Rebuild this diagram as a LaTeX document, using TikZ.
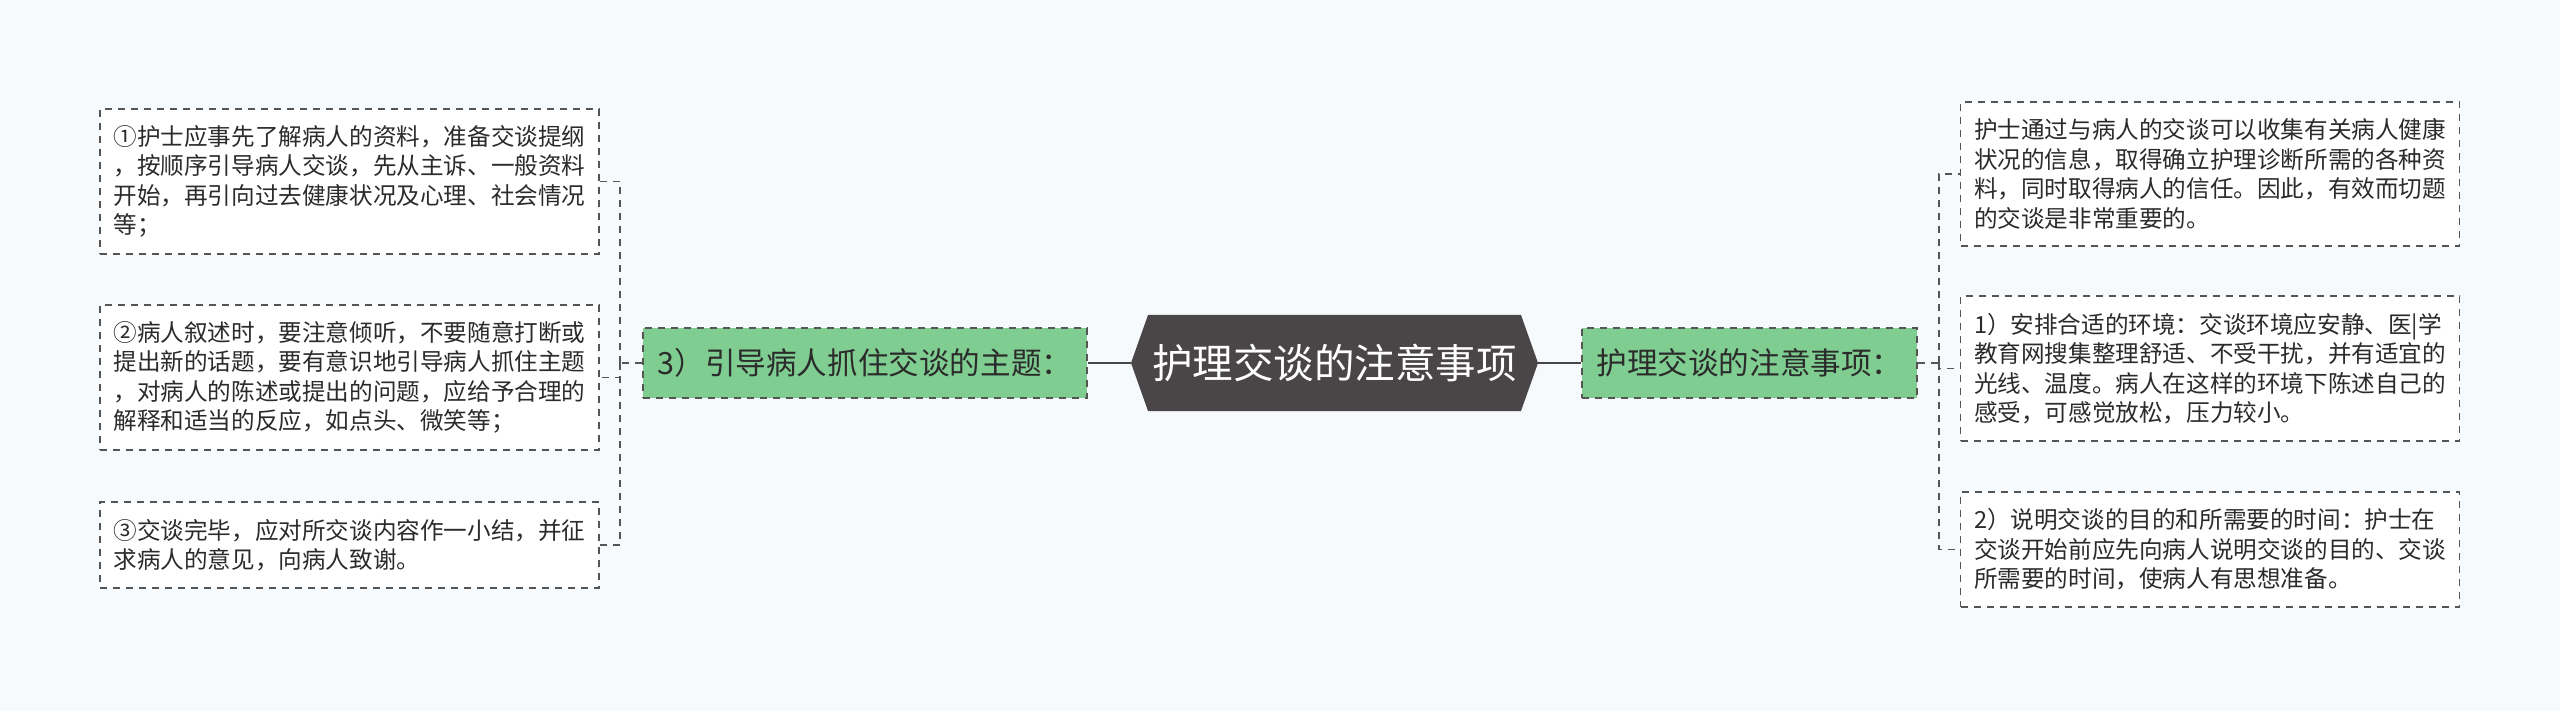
\documentclass[tikz,border=0pt]{standalone}
\usepackage{fontspec}
\newfontfamily\cjk{Noto Sans CJK SC}
\usetikzlibrary{calc}
\definecolor{bgc}{HTML}{F6FAFC}
\definecolor{branchgreen}{HTML}{7FCD91}
\definecolor{darkc}{HTML}{4A4546}
\definecolor{linec}{HTML}{555555}
\definecolor{textc}{HTML}{2B2B2B}
\tikzset{
  leaf/.style={draw=linec, dash pattern=on 3.5pt off 3pt, line width=0.9pt, fill=white,
    minimum width=249.5pt, align=left, inner sep=0pt, text=textc,
    font=\cjk\fontsize{11.8pt}{14.75pt}\selectfont},
  branch/.style={draw=linec, dash pattern=on 3.5pt off 3pt, line width=0.9pt, fill=branchgreen,
    minimum height=35pt, inner sep=0pt, text=textc,
    font=\cjk\fontsize{15.3pt}{18pt}\selectfont},
  centre/.style={minimum width=203.5pt, minimum height=48pt, inner sep=0pt, text=white,
    font=\cjk\fontsize{20.25pt}{24pt}\selectfont},
  conn/.style={draw=linec, line width=0.9pt, dash pattern=on 3.5pt off 3pt},
  solidconn/.style={draw=darkc, line width=1.2pt},
}
\begin{document}
\begin{tikzpicture}[x=1pt,y=1pt]
\fill[bgc] (0,0) rectangle (1280,-355.5);
\useasboundingbox (0,0) rectangle (1280,-355.5);

% left leaves
\node[leaf, minimum height=72.5pt] (l1) at (174.75,-90.75)
  {①护士应事先了解病人的资料，准备交谈提纲\\，按顺序引导病人交谈，先从主诉、一般资料\\开始，再引向过去健康状况及心理、社会情况\\等；};
\node[leaf, minimum height=72.5pt] (l2) at (174.75,-188.75)
  {②病人叙述时，要注意倾听，不要随意打断或\\提出新的话题，要有意识地引导病人抓住主题\\，对病人的陈述或提出的问题，应给予合理的\\解释和适当的反应，如点头、微笑等；};
\node[leaf, minimum height=43pt] (l3) at (174.75,-272.5)
  {③交谈完毕，应对所交谈内容作一小结，并征\\求病人的意见，向病人致谢。};

% left branch
\node[branch, minimum width=222pt] (lb) at (432.5,-181.5) {3）引导病人抓住交谈的主题：};

% centre
\coordinate (cc) at (667.25,-181.5);
\fill[darkc] ($(cc)+(-101.75,0)$) -- ($(cc)+(-93.25,24)$) -- ($(cc)+(93.25,24)$)
  -- ($(cc)+(101.75,0)$) -- ($(cc)+(93.25,-24)$) -- ($(cc)+(-93.25,-24)$) -- cycle;
\node[centre] (c) at (cc) {护理交谈的注意事项};

% right branch
\node[branch, minimum width=167.5pt] (rb) at (874.75,-181.5) {护理交谈的注意事项：};

% right leaves
\node[leaf, minimum height=72pt] (r1) at (1105,-87)
  {护士通过与病人的交谈可以收集有关病人健康\\状况的信息，取得确立护理诊断所需的各种资\\料，同时取得病人的信任。因此，有效而切题\\的交谈是非常重要的。};
\node[leaf, minimum height=72.5pt] (r2) at (1105,-184.25)
  {1）安排合适的环境：交谈环境应安静、医|学\\教育网搜集整理舒适、不受干扰，并有适宜的\\光线、温度。病人在这样的环境下陈述自己的\\感受，可感觉放松，压力较小。};
\node[leaf, minimum height=57.5pt] (r3) at (1105,-274.75)
  {2）说明交谈的目的和所需要的时间：护士在\\交谈开始前应先向病人说明交谈的目的、交谈\\所需要的时间，使病人有思想准备。};

% connectors
\draw[solidconn] (lb.east) -- (c.west);
\draw[solidconn] (c.east) -- (rb.west);

\coordinate (lj) at (310,-181.5);
\draw[conn] (lb.west) -- (lj);
\draw[conn] (lj) |- (l1.east);
\draw[conn] (lj) |- (l2.east);
\draw[conn] (lj) |- (l3.east);

\coordinate (rj) at (969.5,-181.5);
\draw[conn] (rb.east) -- (rj);
\draw[conn] (rj) |- (r1.west);
\draw[conn] (rj) |- (r2.west);
\draw[conn] (rj) |- (r3.west);
\end{tikzpicture}
\end{document}
